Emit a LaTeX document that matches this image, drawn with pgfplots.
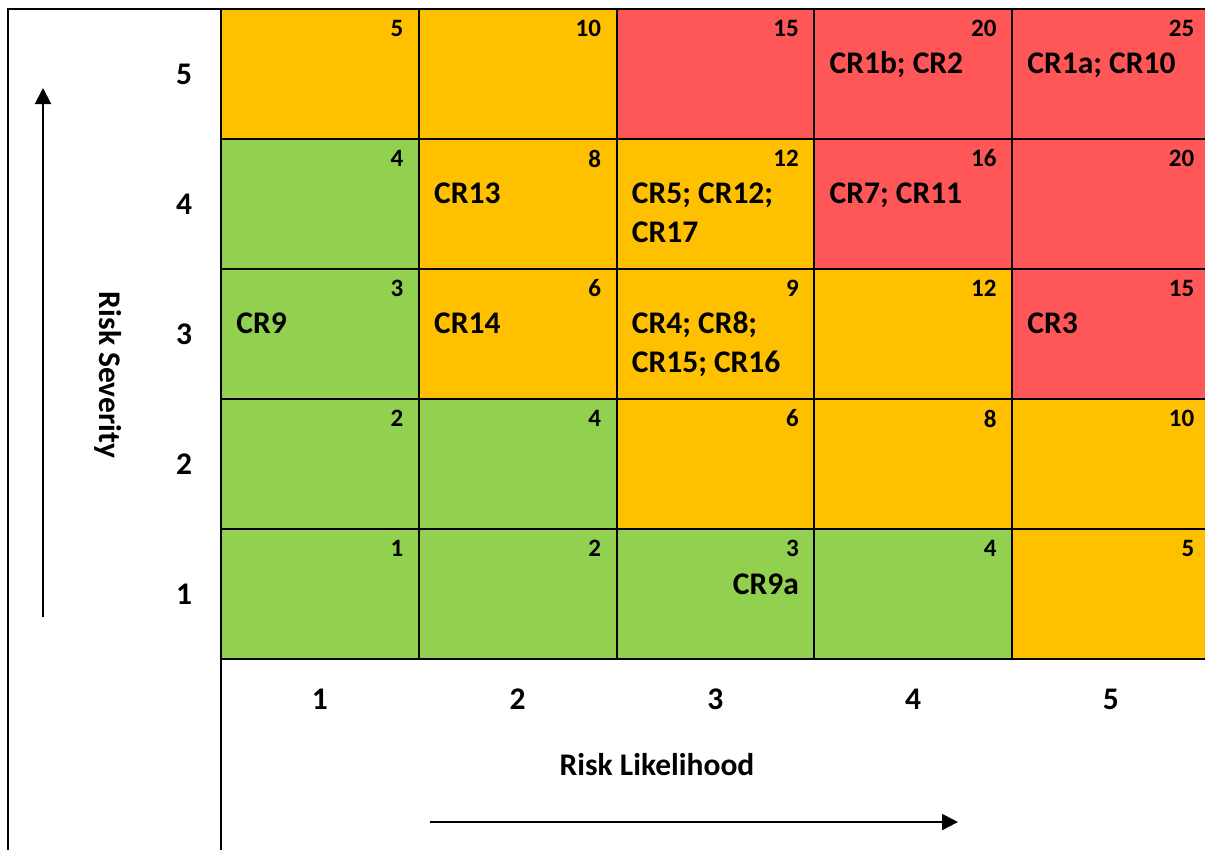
\documentclass[border=0pt]{standalone}
\usepackage{fontspec}
\setmainfont{Carlito}
\usepackage{pgfplots}
\usepackage{pgfplotstable}
\pgfplotsset{compat=1.18}
\usetikzlibrary{arrows.meta}

\newcommand{\lab}{\fontsize{15.75}{19}\selectfont\bfseries}
\newcommand{\num}{\fontsize{12.5}{15}\selectfont\bfseries}

% likelihood x, severity y, score s, colour class c (0 green, 1 amber, 2 red)
\pgfplotstableread{
x y s c
1 1 1 0
2 1 2 0
3 1 3 0
4 1 4 0
5 1 5 1
1 2 2 0
2 2 4 0
3 2 6 1
4 2 8 1
5 2 10 1
1 3 3 0
2 3 6 1
3 3 9 1
4 3 12 1
5 3 15 2
1 4 4 0
2 4 8 1
3 4 12 1
4 4 16 2
5 4 20 2
1 5 5 1
2 5 10 1
3 5 15 2
4 5 20 2
5 5 25 2
}\cells

\begin{document}
\begin{tikzpicture}
\begin{axis}[
    width=602.5pt, height=425pt, scale only axis,
    xmin=-0.6176, xmax=5.476, ymin=-0.969, ymax=5.569,
    clip=false,
    axis line style={draw=none},
    major tick length=0pt,
    xtick={1,...,5}, ytick={1,...,5},
    /pgf/number format/assume math mode=true,
    tick label style={font=\lab},
    xticklabel style={anchor=center, yshift=75.5pt},
    yticklabel style={anchor=center, xshift=92pt},
    xlabel={Risk Likelihood}, ylabel={Risk Severity},
    every axis x label/.style={at={(axis description cs:0.5452,0.1)}, anchor=center, font=\lab},
    every axis y label/.style={at={(axis description cs:0.0896,0.5588)}, rotate=-90, anchor=center, font=\lab},
    colormap={risk}{rgb255=(146,208,80) rgb255=(255,192,0) rgb255=(255,87,87)},
    colormap access=direct,
]
\coordinate (SW) at (rel axis cs:0,0);
\coordinate (NE) at (rel axis cs:1,1);

\addplot[matrix plot*, mesh/cols=5, point meta=explicit] table[x=x, y=y, meta=c] \cells;

% grid and frame
\addplot[black, line width=1pt, unbounded coords=jump] coordinates {
    (-0.5771,-0.969) (-0.5771,5.5) (5.476,5.5) (nan,nan)
    (0.5,5.5) (0.5,-0.969) (nan,nan)
    (1.5,5.5) (1.5,0.5) (nan,nan)
    (2.5,5.5) (2.5,0.5) (nan,nan)
    (3.5,5.5) (3.5,0.5) (nan,nan)
    (4.5,5.5) (4.5,0.5) (nan,nan)
    (0.5,0.5) (5.476,0.5) (nan,nan)
    (0.5,1.5) (5.476,1.5) (nan,nan)
    (0.5,2.5) (5.476,2.5) (nan,nan)
    (0.5,3.5) (5.476,3.5) (nan,nan)
    (0.5,4.5) (5.476,4.5)
};

% arrows
\addplot[black, line width=1pt, -{Triangle[length=8pt, width=8pt]}] coordinates {(-0.4001,0.823) (-0.4001,4.892)};
\addplot[black, line width=1pt, -{Triangle[length=8pt, width=8pt]}] coordinates {(1.557,-0.754) (4.227,-0.754)};

% scores in the top right corner of each cell
\addplot[only marks, mark=*, mark size=0pt, mark options={draw=none, fill=none},
    point meta=explicit symbolic, nodes near coords={\pgfplotspointmeta},
    every node near coord/.append style={anchor=north east, inner sep=0pt, font=\num, text=black}]
    table[x expr=\thisrow{x}+0.424, y expr=\thisrow{y}+0.419, meta=s] \cells;

% risk references
\begin{scope}[every node/.style={anchor=base west, inner sep=0pt, font=\lab}]
\node at (axis cs:3.576,5) {CR1b; CR2};
\node at (axis cs:4.576,5) {CR1a; CR10};
\node at (axis cs:1.576,4) {CR13};
\node at (axis cs:2.576,4) {CR5; CR12;};
\node at (axis cs:2.576,3.705) {CR17};
\node at (axis cs:3.576,4) {CR7; CR11};
\node at (axis cs:0.576,3) {CR9};
\node at (axis cs:1.576,3) {CR14};
\node at (axis cs:2.576,3) {CR4; CR8;};
\node at (axis cs:2.576,2.705) {CR15; CR16};
\node at (axis cs:4.576,3) {CR3};
\node[anchor=base east] at (axis cs:3.424,1) {CR9a};
\end{scope}
\end{axis}
\pgfresetboundingbox
\path[use as bounding box] (SW) rectangle (NE);
\end{tikzpicture}
\end{document}
